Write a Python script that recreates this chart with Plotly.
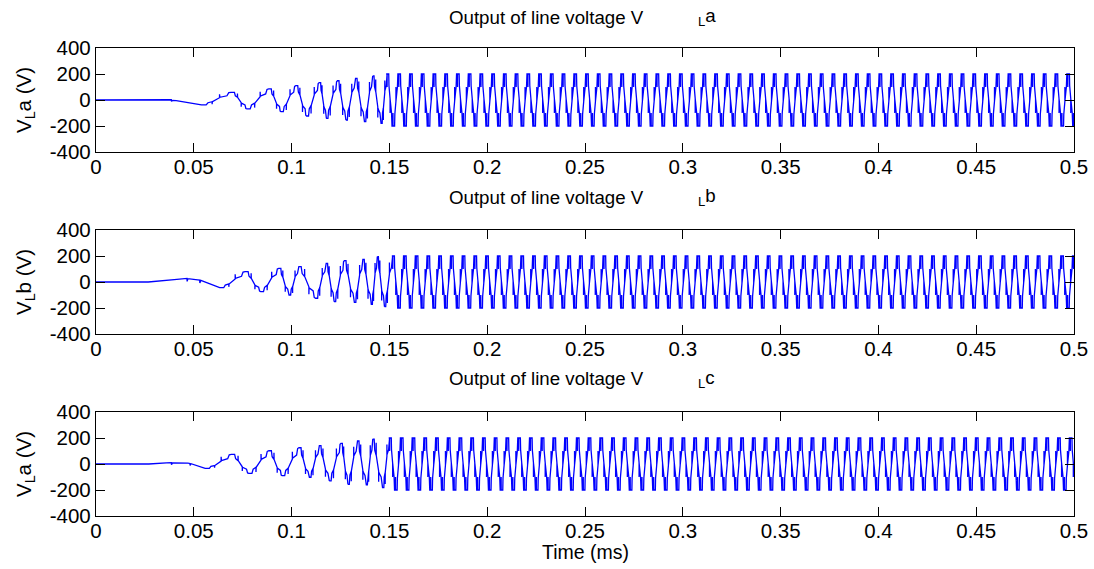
import plotly.graph_objects as go
from plotly.subplots import make_subplots

# ---------------- data ----------------
T_END = 0.5
STEADY_PERIOD = 0.006      # s, steady-state cycle length
STEADY_AMP = 200           # V, steady-state level

# phase a (panel 1)
a_pre_t = [0.0, 0.017, 0.0171, 0.0385, 0.0386, 0.0392, 0.041]
a_pre_v = [0, 0, 2, 2, -10, -3, -5]
a_ext_t = [0.0548, 0.070, 0.0777, 0.089, 0.095, 0.1026, 0.108, 0.1145, 0.118,
           0.1238, 0.128, 0.133, 0.1375, 0.1417, 0.146, 0.149]
a_ext_v = [-38, 59, -69, 85, -90, 110, -123, 133, -141, 148, -154, 167, -167,
           185, -180, 200]

# phase b (panel 2)
b_pre_t = [0.0, 0.0267, 0.040, 0.0465, 0.0466, 0.0470, 0.052, 0.0530, 0.0531, 0.0536]
b_pre_v = [0, 0, 18, 28, 5, 26, 16, 14, -8, 12]
b_ext_t = [0.064, 0.077, 0.0847, 0.094, 0.099, 0.104, 0.1128, 0.118, 0.122,
           0.1273, 0.1324, 0.1367, 0.141, 0.144, 0.1477, 0.1519]
b_ext_v = [-44, 80, -74, 105, -100, 118, -125, 143, -151, 164, -156, 174, -171,
           195, -190, 200]

# phase c (panel 3)
c_pre_t = [0.0, 0.027, 0.036, 0.0385, 0.0386, 0.0391, 0.047, 0.0480, 0.0481, 0.0486]
c_pre_v = [0, 0, 8, 10, -6, 8, 6, 4, -12, 2]
c_ext_t = [0.0566, 0.070, 0.0787, 0.089, 0.0956, 0.1043, 0.1094, 0.1145, 0.1196,
           0.1256, 0.129, 0.134, 0.1384, 0.1417, 0.1468, 0.1503]
c_ext_v = [-33, 74, -72, 102, -90, 125, -102, 141, -130, 159, -156, 177, -161,
           192, -182, 200]

# shape of one half-cycle between two extrema: (fraction of half-cycle, weight of v0, weight of v1)
startup_shape = [(-0.06, 1.0, 0.0), (0.10, 1.0, 0.0), (0.16, 0.55, 0.0),
                 (0.30, 0.35, 0.0), (0.30, 0.85, 0.0), (0.31, 0.35, 0.0),
                 (0.55, 0.0, 0.30), (0.55, 0.0, 0.75), (0.56, 0.0, 0.35),
                 (0.80, 0.0, 0.55), (0.86, 0.0, 0.95), (0.94, 0.0, 1.0)]
steady_shape = [(-0.22, 1.0, 0.0), (-0.06, 1.0, 0.0), (-0.06, 0.50, 0.0),
                (-0.05, 1.0, 0.0), (0.22, 1.0, 0.0), (0.26, 0.55, 0.0),
                (0.45, 0.05, 0.0), (0.45, 0.0, 0.50), (0.46, 0.03, 0.0),
                (0.70, 0.0, 0.50), (0.78, 0.0, 1.0)]

x_ticks = [0, 0.05, 0.1, 0.15, 0.2, 0.25, 0.3, 0.35, 0.4, 0.45, 0.5]
x_tick_text = ["0", "0.05", "0.1", "0.15", "0.2", "0.25", "0.3", "0.35", "0.4", "0.45", "0.5"]
y_ticks = [-400, -200, 0, 200, 400]
y_tick_text = ["-400", "-200", "0", "200", "400"]

titles = ["Output of line voltage V", "Output of line voltage V", "Output of line voltage V"]
title_suffix = ["<sub>L</sub>a", "<sub>L</sub>b", "<sub>L</sub>c"]
y_titles = ["V<sub>L</sub>a (V)", "V<sub>L</sub>b (V)", "V<sub>L</sub>a (V)"]
x_title = "Time (ms)"


# ---------------- waveform assembly ----------------
def build(pre_t, pre_v, ext_t, ext_v):
    n_start = len(ext_t)
    et = list(ext_t)
    ev = list(ext_v)
    half = STEADY_PERIOD / 2
    while et[-1] < T_END + half:
        et.append(et[-1] + half)
        ev.append(-STEADY_AMP if ev[-1] > 0 else STEADY_AMP)
    xs = list(pre_t)
    ys = list(pre_v)
    for i in range(len(et) - 1):
        t0, v0, t1, v1 = et[i], ev[i], et[i + 1], ev[i + 1]
        d = t1 - t0
        shape = startup_shape if i < n_start - 1 else steady_shape
        for f, w0, w1 in shape:
            xs.append(t0 + f * d)
            ys.append(w0 * v0 + w1 * v1)
    out_x, out_y = [], []
    for x, y in zip(xs, ys):
        if x <= T_END:
            out_x.append(x)
            out_y.append(y)
    return out_x, out_y


series = [build(a_pre_t, a_pre_v, a_ext_t, a_ext_v),
          build(b_pre_t, b_pre_v, b_ext_t, b_ext_v),
          build(c_pre_t, c_pre_v, c_ext_t, c_ext_v)]

# ---------------- figure ----------------
W, H = 1094, 569
ML, MR, MT, MB = 96, 20, 48, 53
fig = make_subplots(rows=3, cols=1, shared_xaxes=False, vertical_spacing=0.1)

FONT = "Liberation Sans, Arial, sans-serif"
for r, (x, y) in enumerate(series, start=1):
    fig.add_trace(go.Scatter(x=x, y=y, mode="lines",
                             line=dict(color="#0000ff", width=1.3),
                             showlegend=False, hoverinfo="skip"), row=r, col=1)

plot_h = H - MT - MB
plot_w = W - ML - MR
domains = [((516 - 152) / plot_h, (516 - 48) / plot_h),
           ((516 - 334) / plot_h, (516 - 230) / plot_h),
           (0.0, (516 - 412) / plot_h)]

axis_common = dict(showline=True, linecolor="black", linewidth=1.3, mirror="ticks",
                   ticks="inside", ticklen=9, tickwidth=1.2, tickcolor="black",
                   showgrid=False, zeroline=False, automargin=False,
                   tickfont=dict(family=FONT, size=20.5, color="black"))

for r in range(1, 4):
    xa = "xaxis" if r == 1 else f"xaxis{r}"
    ya = "yaxis" if r == 1 else f"yaxis{r}"
    fig.layout[xa].update(range=[0, T_END], tickvals=x_ticks, ticktext=x_tick_text,
                          domain=[0, 1], ticklabelstandoff=-4, **axis_common)
    fig.layout[ya].update(range=[-400, 400], tickvals=y_ticks, ticktext=y_tick_text,
                          domain=list(domains[r - 1]),
                          title=dict(text=y_titles[r - 1], standoff=12,
                                     font=dict(family=FONT, size=20.5, color="black")),
                          **axis_common)

title_py = [17, 197, 379]
for i in range(3):
    yp = (516 - title_py[i]) / plot_h
    fig.add_annotation(text=titles[i], xref="paper", yref="paper",
                       x=(646 - ML) / plot_w, y=yp, xanchor="right", yanchor="middle",
                       showarrow=False, font=dict(family=FONT, size=18.7, color="black"))
    fig.add_annotation(text=title_suffix[i], xref="paper", yref="paper",
                       x=(696 - ML) / plot_w, y=yp, xanchor="left", yanchor="middle",
                       showarrow=False, font=dict(family=FONT, size=18.7, color="black"))

fig.add_annotation(text=x_title, xref="paper", yref="paper",
                   x=(585 - ML) / plot_w, y=(516 - 552) / plot_h,
                   xanchor="center", yanchor="middle", showarrow=False,
                   font=dict(family=FONT, size=19.5, color="black"))

fig.update_layout(width=W, height=H, margin=dict(l=ML, r=MR, t=MT, b=MB, autoexpand=False),
                  paper_bgcolor="white", plot_bgcolor="white",
                  font=dict(family=FONT, color="black"))

fig.write_html("out.html", config={"displayModeBar": False},
               post_script="document.body.style.margin='0';document.body.style.overflow='hidden';")
